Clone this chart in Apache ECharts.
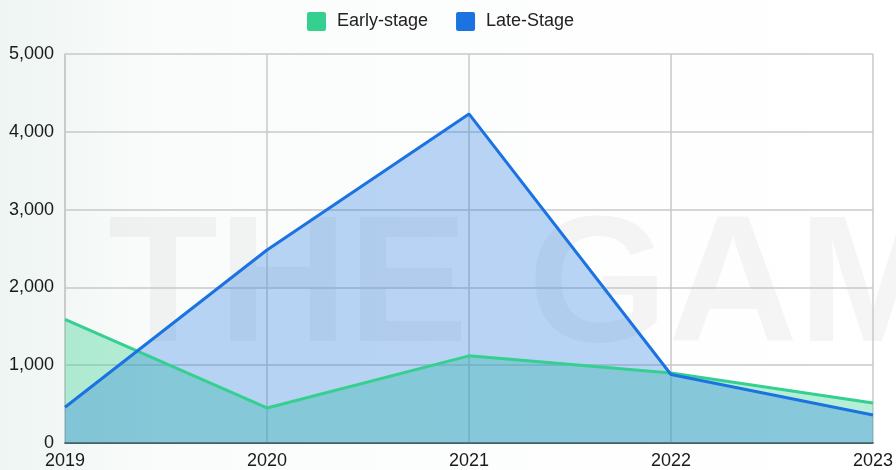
<!DOCTYPE html>
<html>
<head>
<meta charset="utf-8">
<script src="https://cdn.jsdelivr.net/npm/echarts@6/dist/echarts.min.js"></script>
<style>html,body{margin:0;padding:0;background:#fff}#c{width:896px;height:470px}</style>
</head>
<body>
<div id="c"></div>
<script>
const years = ['2019', '2020', '2021', '2022', '2023'];
const earlyStage = [1590, 450, 1120, 900, 515];
const lateStage = [460, 2480, 4230, 880, 360];
const yTicks = [0, 1000, 2000, 3000, 4000, 5000];

const FONT = '"Liberation Sans", Arial, sans-serif';
const wmFont = 'bold 180px ' + FONT;
const wmFill = 'rgba(0,0,0,0.04)';
const squareIcon = 'path://M2,0 H16 Q18,0 18,2 V16 Q18,18 16,18 H2 Q0,18 0,16 V2 Q0,0 2,0 Z';

const chart = echarts.init(document.getElementById('c'), null, {renderer: 'canvas'});
chart.setOption({
  animation: false,
  backgroundColor: {
    type: 'linear', x: 0, y: 0, x2: 1, y2: 0,
    colorStops: [
      {offset: 0, color: '#eef5f2'},
      {offset: 0.18, color: '#fafcfb'},
      {offset: 1, color: '#ffffff'}
    ]
  },
  graphic: [
    {type: 'text', left: 108, top: 201, z: -10, silent: true,
     style: {text: 'THE', font: wmFont, fill: wmFill}},
    {type: 'text', left: 528, top: 201, z: -10, silent: true,
     style: {text: 'GAME', font: wmFont, fill: wmFill}}
  ],
  legend: {
    top: 7,
    left: 302,
    itemWidth: 19,
    itemHeight: 19,
    itemGap: 28,
    icon: squareIcon,
    textStyle: {fontSize: 18, color: '#222', fontFamily: FONT, padding: [0, 0, 0, 6]},
    data: ['Early-stage', 'Late-Stage']
  },
  grid: {left: 65, right: 22, top: 54, bottom: 27, containLabel: false},
  xAxis: {
    type: 'category',
    boundaryGap: false,
    data: years,
    axisLine: {show: true, lineStyle: {color: '#333', width: 1.5}},
    axisTick: {show: false},
    axisLabel: {fontSize: 18, color: '#1a1a1a', margin: 9, fontFamily: FONT},
    splitLine: {show: true, lineStyle: {color: '#c8c8c8', width: 1.5}}
  },
  yAxis: {
    type: 'value',
    min: yTicks[0],
    max: yTicks[yTicks.length - 1],
    interval: 1000,
    axisLine: {show: true, lineStyle: {color: '#c8c8c8', width: 1.5}},
    axisTick: {show: false},
    axisLabel: {
      fontSize: 18, color: '#1a1a1a', margin: 11, fontFamily: FONT,
      formatter: v => v.toLocaleString('en-US')
    },
    splitLine: {show: true, lineStyle: {color: '#c8c8c8', width: 1.5}}
  },
  series: [
    {
      name: 'Early-stage', type: 'line', data: earlyStage,
      showSymbol: false, symbol: 'none', color: '#35d08f',
      lineStyle: {width: 0, opacity: 0},
      areaStyle: {color: '#35d08f', opacity: 0.36},
      z: 2
    },
    {
      name: 'Late-Stage', type: 'line', data: lateStage,
      showSymbol: false, symbol: 'none', color: '#1a73e0',
      lineStyle: {width: 0, opacity: 0},
      areaStyle: {color: '#1a73e0', opacity: 0.3},
      z: 3
    },
    {
      name: 'Early-stage', type: 'line', data: earlyStage,
      showSymbol: false, symbol: 'none', color: '#35d08f',
      lineStyle: {width: 3, color: '#35d08f'},
      z: 4
    },
    {
      name: 'Late-Stage', type: 'line', data: lateStage,
      showSymbol: false, symbol: 'none', color: '#1a73e0',
      lineStyle: {width: 3, color: '#1a73e0'},
      z: 5
    }
  ]
});
</script>
</body>
</html>
